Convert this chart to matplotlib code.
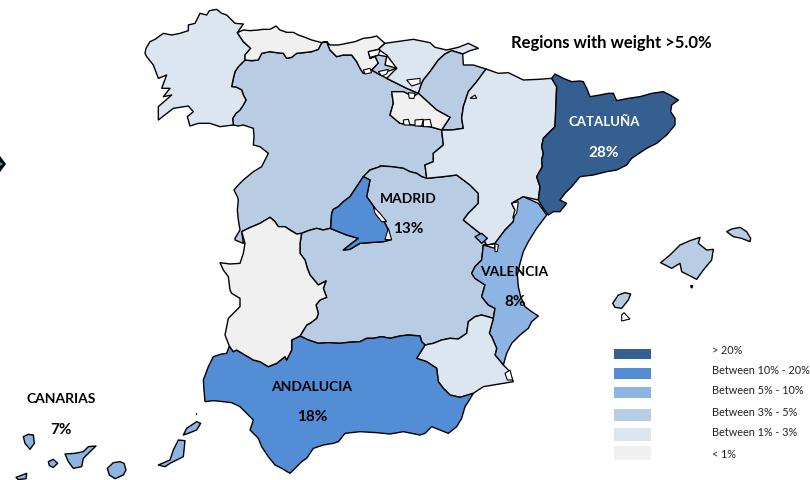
import matplotlib
matplotlib.use("Agg")
import matplotlib.pyplot as plt
from matplotlib.patches import Polygon, Rectangle

plt.rcParams['font.family'] = ['Lato', 'DejaVu Sans']

# Share classes
DARK, MID, SOFT, PALE, LIGHT, GREY = '#365F91', '#538DD5', '#8DB4E2', '#B8CCE4', '#DCE6F1', '#F0F0F0'
legend_labels = ['> 20%', 'Between 10% - 20%', 'Between 5% - 10%', 'Between 3% - 5%', 'Between 1% - 3%', '< 1%']
legend_colors = [DARK, MID, SOFT, PALE, LIGHT, GREY]
region_labels = ['CATALUÑA', 'MADRID', 'VALENCIA', 'ANDALUCIA', 'CANARIAS']
region_shares = ['28%', '13%', '8%', '18%', '7%']

def z(frame, pts):
    return [(frame[0] + x / 3, frame[1] + y / 3) for x, y in pts]

A, B, C, D, E, F = (130, 0), (380, 30), (190, 210), (400, 190), (600, 220), (0, 380)

# Shared borders
gal_cyl = z(A, [(345,180),(340,185),(325,200),(315,215),(310,235),(305,260),(320,262),(335,270),(340,285),(348,300),(340,315),(330,330),(318,340),(308,355),(310,375)])
port_cyl = z(A, [(310,375),(325,378),(340,375),(355,380),(370,385),(372,410),(370,435),(390,440),(415,460),(405,480),(395,500),(370,515),(340,540),(325,555),(312,570),(322,590),(325,600),(322,630),(325,660),(330,690),(315,715)])
ast_cyl = z(A, [(345,180),(365,182),(385,180),(395,160),(420,155),(440,158),(460,160),(470,175),(485,172),(500,160),(520,158),(545,155),(565,148),(575,128)])
cant_cyl = z(A, [(575,128),(590,125),(600,150),(620,170),(640,165),(665,165),(680,185),(690,205),(700,220),(725,210)])
ext_cyl = z(C, [(155,65),(175,55),(210,40),(240,22),(255,35),(265,50),(285,50),(300,60),(320,72),(335,70)])
cyl_clm = z(C, [(335,70),(355,62),(380,55),(400,60),(420,55)])
mad_west = z(A, [(602,685),(605,640),(610,628),(625,620),(640,605),(660,590),(680,560),(700,530)])
clm_top = z(A, [(700,530),(720,510),(750,500)]) + z(B, [(0,408),(35,410),(70,415),(90,425),(110,430),(125,440),(140,445)])
ext_clm = z(C, [(335,70),(330,100),(330,130),(345,150),(352,175),(360,195),(385,225),(408,213),(400,235),(410,262),(390,270),(378,285),(385,310),(380,325),(360,340),(350,345),(330,378)])
and_clm = z(C, [(330,378),(355,390),(385,400),(415,398),(450,400),(475,397),(510,395),(530,385),(550,385),(575,380),(600,385),(630,378),(655,375),(690,378),(695,395),(705,405)])
and_ext = z(C, [(118,408),(130,425),(140,420),(165,435),(190,450),(210,455),(235,470),(260,460),(285,440),(290,450),(305,420),(305,390),(330,378)])
and_mur = z(C, [(705,405),(680,445),(710,455),(740,475),(745,515),(760,535),(780,555),(810,562),(850,550)])
mur_clm = z(D, [(75,465),(100,460),(125,450),(150,445),(175,447),(200,430),(205,395),(225,380),(245,375),(280,385)])
val_clm = z(D, [(250,165),(245,210),(225,230),(215,250),(225,265),(255,285),(245,320),(265,345),(285,355),(280,385)])
mur_val = z(D, [(280,385),(268,430),(275,440),(290,475),(285,495),(310,525)])
ara_cat = z(B, [(515,145),(530,170),(528,220),(525,290),(505,310),(490,325),(485,350),(490,370),(485,390),(487,410),(470,440),(480,470),(475,510)])
ara_val = z(B, [(475,510),(430,500),(395,520),(405,540),(400,575),(375,600),(345,640)])
ara_clm = z(B, [(345,640),(320,645),(300,610),(250,570),(265,550),(295,520),(295,490),(270,465),(230,435),(190,440),(140,445)])
ara_cyl = z(B, [(140,445),(135,405),(160,395),(160,370),(190,345),(185,300)])
ara_nav = z(B, [(185,300),(215,300),(250,295),(245,265),(250,230),(265,185),(290,155),(318,117)])
nav_rio = z(B, [(185,300),(210,262),(170,240),(115,190)])
rio_cyl = z(B, [(115,190),(100,200),(70,185),(35,185),(40,220),(30,255),(60,280),(100,285),(150,290),(185,300)])
mad_east = z(A, [(700,530),(720,540),(710,590),(735,625),(765,670),(775,690),(780,720)])
mad_bottom = z(C, [(600,90),(580,95),(550,97),(510,100),(480,118),(460,120),(485,100),(505,85),(470,75),(420,55)])

# Coasts and remaining outline
gal_coast = z(A, [(310,375),(270,380),(240,370),(205,370),(180,378),(172,350),(190,335),(175,318),(130,325),(85,360),(85,320),(125,285),(100,290),(120,265),(95,265),(110,225),(85,235),(70,195),(50,170),(45,160),(48,145),(60,125),(75,118),(100,100),(125,105),(150,100),(175,92),(175,75),(195,70),(210,40),(230,45),(238,32),(260,28),(275,40),(290,45),(315,70),(340,72),(322,98),(340,125),(362,145),(345,165)])
ast_coast = z(A, [(575,128),(545,120),(525,112),(505,105),(490,97),(470,97),(450,90),(438,78),(420,88),(400,88),(385,90),(360,92),(340,90),(322,98),(340,125),(362,145),(345,165)])
cant_coast = z(A, [(725,210),(745,190),(735,168),(720,175),(715,155),(745,148),(765,130),(740,108),(725,112),(700,115),(675,125),(650,130),(625,135),(600,135),(590,125)])
bas_coast = z(A, [(765,130),(800,125),(850,118),(900,128)]) + z(B, [(165,52),(200,60),(235,52),(265,40),(295,55),(270,62),(248,72),(215,62),(195,72),(175,90),(150,125),(130,150),(125,160),(115,190)])
bas_inner = z(A, [(830,265),(770,235),(800,205),(770,165),(745,148)])
nav_top = z(B, [(130,150),(150,125),(175,90),(195,72),(215,62),(248,72),(250,105),(280,105),(318,117)])
nav_side = z(B, [(115,190),(125,160)])
ara_top = z(B, [(318,117),(355,130),(385,128),(430,150),(475,148),(515,145)])
cat_coast = z(B, [(515,145),(525,132),(550,145),(575,155),(600,153),(610,155),(620,175),(630,200),(660,195),(685,190),(700,190),(710,212),(745,205),(780,200),(815,190),(850,185),(870,195),(895,210),(875,225),(872,245),(885,265),(885,285),(860,315),(830,340),(800,355),(770,375),(755,385),(740,405),(710,420),(680,425),(640,435),(600,440),(575,470),(555,490),(540,510),(560,520),(540,545),(520,545),(505,555),(490,535),(475,510)])
val_coast = z(D, [(310,525),(320,490),(335,460),(360,435),(385,415),(395,395),(415,378),(395,365),(375,350),(362,320),(355,290),(352,255),(360,220),(370,185),(385,155),(410,115),(440,75),(415,40)])
val_tail = z(D, [(285,175),(250,165)])
mur_coast = z(D, [(325,540),(340,575),(280,585),(250,590)])
and_coast = z(C, [(850,550),(835,575),(825,590),(815,625),(800,650),(775,670),(750,660),(725,650),(705,670),(690,675),(640,665),(600,672),(560,668),(510,665),(465,670),(445,695),(430,700),(400,705),(370,715),(350,745),(335,755),(300,790),(275,775),(255,765),(235,740),(215,710),(205,685),(180,660),(190,630),(170,610),(150,590),(125,578),(100,575),(70,572),(45,575),(42,540),(40,510),(55,470),(70,440),(95,432),(110,430)])
ext_port = z(C, [(118,408),(105,375),(115,325),(135,305),(150,290),(150,265),(125,250),(120,240),(115,200),(100,180),(90,158),(120,162),(150,160),(160,130),(165,100)])
cyl_lobe = z(C, [(155,65),(160,100),(135,90)])

galicia = gal_cyl + gal_coast
asturias = ast_cyl + ast_coast[1:]
cantabria = cant_cyl + cant_coast
basque = bas_coast + bas_inner
navarra = nav_top + ara_nav[::-1][1:] + nav_rio[1:] + nav_side
castilla_leon = ast_cyl + cant_cyl + z(A, [(770,235),(830,265)]) + rio_cyl + ara_cyl[::-1] + clm_top[::-1] + mad_west[::-1] + cyl_clm[::-1] + ext_cyl[::-1] + cyl_lobe[1:] + port_cyl[::-1] + gal_cyl[::-1]
rioja = rio_cyl + nav_rio[1:]
la_mancha = cyl_clm + mad_bottom[::-1] + mad_east[::-1] + clm_top[1:] + ara_clm[::-1] + val_clm + mur_clm[::-1] + and_clm[::-1] + ext_clm[::-1]
madrid = mad_west + mad_east + mad_bottom
aragon = ara_top + ara_cat + ara_val + ara_clm + ara_cyl + ara_nav
cataluna = cat_coast + ara_cat[::-1]
valencia = val_tail + val_clm + mur_val + val_coast + ara_val[1:]
ademuz = z(D, [(225,140),(245,130),(262,145),(245,160)])
murcia = mur_clm + mur_val + mur_coast + and_mur[::-1]
andalucia = and_ext + and_clm + and_mur + and_coast
extremadura = ext_cyl + ext_clm + and_ext[::-1] + ext_port

mallorca = z(E, [(182,128),(210,105),(240,75),(270,62),(300,52),(295,70),(320,90),(340,88),(335,120),(310,150),(290,178),(265,165),(245,155),(240,130),(215,145)])
menorca = z(E, [(380,35),(395,27),(420,22),(440,35),(452,55),(450,65),(425,55),(400,50)])
ibiza = z(E, [(38,250),(55,225),(75,218),(92,222),(85,240),(65,265),(45,262)])
formentera = z(E, [(65,285),(72,278),(90,297),(65,303)])
la_palma = z(F, [(70,170),(85,163),(100,165),(103,190),(90,208),(75,190)])
gomera = z(F, [(145,245),(160,238),(173,250),(160,262),(148,257)])
tenerife = z(F, [(195,222),(225,220),(250,215),(265,200),(288,198),(260,225),(250,235),(245,260),(220,265),(205,245)])
gran_canaria = z(F, [(322,265),(340,248),(360,245),(372,250),(378,270),(370,285),(345,296),(328,285)])
fuerteventura = z(F, [(475,255),(510,240),(520,210),(535,180),(555,182),(550,230),(510,250),(495,260)])
lanzarote = z(F, [(550,165),(560,145),(590,125),(602,130),(590,150),(565,160)])
hierro = z(F, [(48,292),(80,280),(78,296),(55,299)])
arrow = [(0, 156), (6, 164), (0, 172)]
arrow_core = [(0, 162), (3, 164), (0, 166)]
cabrera = z(E, [(270,195),(280,195),(278,205),(272,205)])
alegranza = z(F, [(588,100),(592,100),(592,104),(588,104)])

enclave = z(A, [(720,175),(745,165),(770,170),(765,195),(800,205),(770,215),(750,225),(725,210),(745,190),(735,168)])
holes = [
    z(A, [(715,155),(750,148),(745,165),(720,172)]),
    z(A, [(745,215),(775,208),(770,222),(755,228)]),
    z(A, [(700,210),(720,205),(725,218),(705,222)]),
    z(A, [(830,240),(870,235),(870,250),(845,258)]),
    z(A, [(835,278),(855,280),(852,295),(838,295)]),
    z(B, [(70,270),(85,268),(90,285),(72,285)]),
    z(B, [(105,270),(130,268),(125,288),(105,288)]),
    z(B, [(130,270),(150,268),(155,290),(130,290)]),
    z(A, [(730,620),(750,640),(770,665),(755,665),(735,640)]),
    z(C, [(585,88),(595,55),(605,90)]),
    z(B, [(395,520),(415,515),(410,550),(398,565),(405,540)]),
    z(B, [(345,640),(355,645),(352,665),(345,665)]),
    z(D, [(315,550),(330,540),(338,570),(322,570)]),
    z(B, [(270,205),(285,195),(290,205)]),
    formentera,
]

regions = [
    (castilla_leon, PALE), (la_mancha, PALE), (galicia, LIGHT), (asturias, GREY),
    (cantabria, GREY), (basque, LIGHT), (navarra, PALE), (rioja, GREY), (aragon, LIGHT),
    (cataluna, DARK), (valencia, SOFT), (ademuz, SOFT), (murcia, LIGHT), (andalucia, MID),
    (extremadura, GREY), (madrid, MID), (mallorca, PALE), (menorca, PALE), (ibiza, PALE),
    (la_palma, SOFT), (gomera, SOFT), (tenerife, SOFT), (gran_canaria, SOFT),
    (fuerteventura, SOFT), (lanzarote, SOFT), (hierro, SOFT), (enclave, PALE),
]

fig = plt.figure(figsize=(8.1, 4.8), dpi=100)
ax = fig.add_axes([0, 0, 1, 1])
ax.set_xlim(0, 810)
ax.set_ylim(480, 0)
ax.axis('off')

for pts, colour in regions:
    ax.add_patch(Polygon(pts, closed=True, facecolor=colour, edgecolor='black', linewidth=1.0, joinstyle='round'))
for pts in holes:
    ax.add_patch(Polygon(pts, closed=True, facecolor='white', edgecolor='black', linewidth=0.8))
for pts in (cabrera, alegranza, arrow):
    ax.add_patch(Polygon(pts, closed=True, facecolor='black', edgecolor='none'))
ax.add_patch(Polygon(arrow_core, closed=True, facecolor='#1E9BE0', edgecolor='none'))

label_xy = [(604, 122), (408, 199), (514, 272), (312, 387), (61, 399)]
share_xy = [(604, 153), (408, 229), (515, 302), (312, 417), (61, 430)]
for i, (name, share) in enumerate(zip(region_labels, region_shares)):
    colour = 'white' if name == 'CATALUÑA' else 'black'
    size = 9.5 if name == 'CATALUÑA' else 10
    ax.text(*label_xy[i], name, ha='center', va='center', fontsize=size, fontweight='bold', color=colour)
    ax.text(*share_xy[i], share, ha='center', va='center', fontsize=11, fontweight='bold', color=colour)

ax.text(611, 43, 'Regions with weight >5.0%', ha='center', va='center', fontsize=12, fontweight='bold', color='black')

bar_y = [(349, 359), (368, 379), (387, 398), (409, 421), (428, 441), (446, 460)]
text_y = [351, 370, 391, 412, 432, 455]
for (y0, y1), ty, colour, label in zip(bar_y, text_y, legend_colors, legend_labels):
    ax.add_patch(Rectangle((614, y0), 37, y1 - y0, facecolor=colour, edgecolor='none'))
    ax.text(712, ty, label, ha='left', va='center', fontsize=7.8, color='#222222')

fig.savefig('out.png', dpi=100)
